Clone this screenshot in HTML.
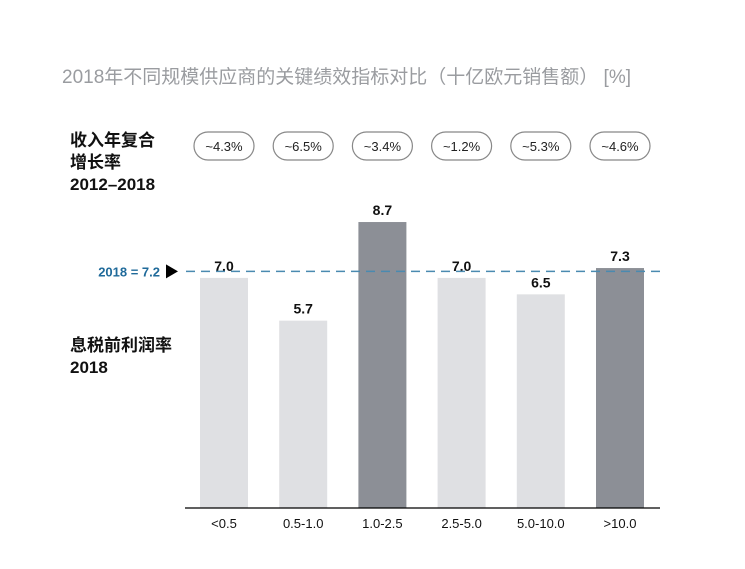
<!DOCTYPE html>
<html><head><meta charset="utf-8"><style>
body{margin:0;background:#fff;}
svg text{font-family:"Liberation Sans","Noto Sans CJK SC",sans-serif;}
</style></head><body>
<svg width="745" height="564" xmlns="http://www.w3.org/2000/svg" id="chart">
<text x="62" y="83" font-size="19" fill="#9a9ca0">2018年不同规模供应商的关键绩效指标对比（十亿欧元销售额） [%]</text>
<g font-size="17" font-weight="bold" fill="#111">
<text x="70" y="146">收入年复合</text><text x="70" y="168">增长率</text><text x="70" y="190">2012–2018</text></g>
<g font-size="17" font-weight="bold" fill="#111">
<text x="70" y="351">息税前利润率</text><text x="70" y="373">2018</text></g>
<g id="pills"></g><g id="bars"></g>
<line x1="185" y1="508" x2="660" y2="508" stroke="#000" stroke-width="1.2"/>
<line x1="186" y1="271" x2="660" y2="271" stroke="#4a8ab0" stroke-width="1.5" stroke-dasharray="9,6" id="refline"/>
<text x="160" y="277" font-size="13" font-weight="bold" fill="#1f6a9a" text-anchor="end" id="reftext">2018 = 7.2</text>
<polygon id="refarrow" points="166,264 178,271 166,278" fill="#000"/>
</svg>
<script>
const categories=["<0.5","0.5-1.0","1.0-2.5","2.5-5.0","5.0-10.0",">10.0"];
const margins=[7.0,5.7,8.7,7.0,6.5,7.3];
const cagr=["~4.3%","~6.5%","~3.4%","~1.2%","~5.3%","~4.6%"];
const highlight=[false,false,true,false,false,true];
const reference=7.2;
const ns="http://www.w3.org/2000/svg";
const x=i=>224+i*79.2, y=v=>508-v*32.87;
function mk(t,a,p){const e=document.createElementNS(ns,t);for(const k in a)e.setAttribute(k,a[k]);p.appendChild(e);return e;}
const bars=document.getElementById('bars'),pills=document.getElementById('pills');
categories.forEach((c,i)=>{
 const r=mk('rect',{x:x(i)-24,y:y(margins[i]),width:48,height:508-y(margins[i]),fill:highlight[i]?'#8c8f96':'#dfe0e3'},bars);
 
 
 const v=mk('text',{x:x(i),y:y(margins[i])-7,'font-size':14,'font-weight':'bold','text-anchor':'middle',fill:'#111'},bars);v.textContent=margins[i].toFixed(1);
 
 
 const l=mk('text',{x:x(i),y:528,'font-size':13,'text-anchor':'middle',fill:'#111'},bars);l.textContent=c;
 
 
 const p=mk('rect',{x:x(i)-30,y:132,width:60,height:28,rx:14,fill:'#fff',stroke:'#888','stroke-width':1.2},pills);
 
 
 const pt=mk('text',{x:x(i),y:151,'font-size':13,'text-anchor':'middle',fill:'#222'},pills);pt.textContent=cagr[i];
 
 
});
const ry=y(reference);
document.getElementById('refline').setAttribute('y1',ry);document.getElementById('refline').setAttribute('y2',ry);
document.getElementById('reftext').setAttribute('y',ry+5);
document.getElementById('refarrow').setAttribute('points',`166,${ry-7} 178,${ry} 166,${ry+7}`);
</script>
</body></html>
